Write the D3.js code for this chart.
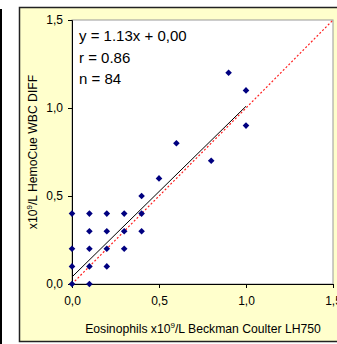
<!DOCTYPE html>
<html><head><meta charset="utf-8">
<script src="https://cdn.jsdelivr.net/npm/d3@7"></script>
<style>body{margin:0;background:#fff}svg{display:block}</style>
</head><body>
<svg id="c" width="337" height="344"></svg>
<script>
const xValues = [0,0.1,0.2,0.3,0.4, 0.1,0.2,0.3,0.4, 0,0.1,0.2,0.3, 0,0.1,0.2, 0,0.1, 0.4,0.5,0.6,0.8,0.9,1.0,1.0];
const yValues = [0.4,0.4,0.4,0.4,0.4, 0.3,0.3,0.3,0.3, 0.2,0.2,0.2,0.2, 0.1,0.1,0.1, 0,0, 0.5,0.6,0.8,0.7,1.2,1.1,0.9];
const regX = [0, 1.0];
const regY = [0.04, 1.01];
const idX = [0, 1.5];
const idY = [0, 1.5];
const xTicks = [0, 0.5, 1.0, 1.5];
const yTicks = [0, 0.5, 1.0, 1.5];
const annot = ["y = 1.13x + 0,00", "r = 0.86", "n = 84"];

const svg = d3.select("#c");
const fmt = d => d3.format(".1f")(d).replace(".", ",");
const L = 72, R = 333, T = 20, B = 284;
const x = d3.scaleLinear().domain([0,1.5]).range([L,R]);
const y = d3.scaleLinear().domain([0,1.5]).range([B,T]);

svg.append("line").attr("x1",1).attr("x2",1).attr("y1",9).attr("y2",344).attr("stroke","#000").attr("stroke-width",2);
svg.append("rect").attr("x",19.5).attr("y",7.5).attr("width",330).attr("height",334).attr("fill","#FFFFCC").attr("stroke","#222").attr("stroke-width",1.5);
svg.append("rect").attr("x",L).attr("y",T).attr("width",R-L).attr("height",B-T).attr("fill","#fff").attr("stroke","#999").attr("stroke-width",1);

const font = "Arial, 'Liberation Sans', sans-serif";
const xa = svg.append("g").attr("transform",`translate(0,${B})`).call(d3.axisBottom(x).tickValues(xTicks).tickFormat(fmt).tickSize(4).tickPadding(8));
const ya = svg.append("g").attr("transform",`translate(${L},0)`).call(d3.axisLeft(y).tickValues(yTicks).tickFormat(fmt).tickSize(4).tickPadding(5));
[xa,ya].forEach(g=>{g.selectAll("path,line").attr("stroke","#000");g.selectAll("text").attr("font-family",font).attr("font-size",12).attr("fill","#000");});

svg.append("line").attr("x1",x(idX[0])).attr("y1",y(idY[0])).attr("x2",x(idX[1])).attr("y2",y(idY[1]))
  .attr("stroke","#FF2020").attr("stroke-width",1.2).attr("stroke-dasharray","2,2");
svg.append("line").attr("x1",x(regX[0])).attr("y1",y(regY[0])).attr("x2",x(regX[1])).attr("y2",y(regY[1]))
  .attr("stroke","#000").attr("stroke-width",1);

const diamond = "M0,-3.3L3.3,0L0,3.3L-3.3,0Z";
svg.append("g").selectAll("path").data(xValues.map((v,i)=>[v,yValues[i]])).join("path")
  .attr("d",diamond).attr("transform",d=>`translate(${x(d[0])},${y(d[1])})`).attr("fill","#000080");

svg.append("g").selectAll("text").data(annot).join("text")
  .attr("x",79).attr("y",(d,i)=>41+i*21.5).attr("font-family",font).attr("font-size",15).attr("fill","#000").text(d=>d);

const xt = svg.append("text").attr("x",203).attr("y",333).attr("text-anchor","middle").attr("font-family",font).attr("font-size",12.2).attr("fill","#000");
xt.append("tspan").text("Eosinophils x10");
xt.append("tspan").attr("font-size",8).attr("dy",-5).text("9");
xt.append("tspan").attr("dy",5).text("/L Beckman Coulter LH750");

const yt = svg.append("text").attr("transform",`translate(37,${(T+B)/2}) rotate(-90)`).attr("text-anchor","middle").attr("font-family",font).attr("font-size",12.2).attr("fill","#000");
yt.append("tspan").text("x10");
yt.append("tspan").attr("font-size",8).attr("dy",-5).text("9");
yt.append("tspan").attr("dy",5).text("/L HemoCue WBC DIFF");
</script>
</body></html>
